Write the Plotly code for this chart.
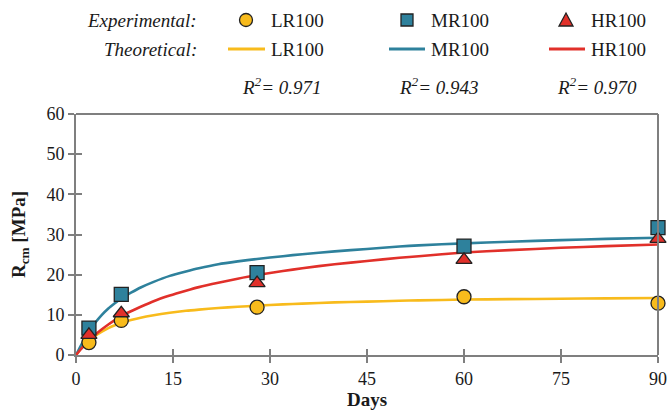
import plotly.graph_objects as go

# ---------------- data ----------------
days_exp = [2, 7, 28, 60, 90]
lr_exp = [3.1, 8.6, 11.9, 14.5, 12.9]
mr_exp = [6.7, 15.1, 20.5, 27.1, 31.7]
hr_exp = [5.0, 10.4, 17.9, 23.7, 28.9]

days_theo = [0, 1, 2, 3, 4, 5, 6, 7, 8.5, 10, 12, 14.5, 17, 19, 22, 25, 28, 32, 35, 40, 45, 50, 53, 60, 67, 75, 82, 90]
lr_theo = [0, 2.1, 3.6, 4.8, 5.8, 6.7, 7.4, 8.0, 8.7, 9.3, 9.9, 10.5, 11.0, 11.3, 11.7, 12.0, 12.3, 12.6, 12.8, 13.1, 13.3, 13.5, 13.6, 13.8, 13.9, 14.0, 14.1, 14.2]
mr_theo = [0, 3.1, 5.8, 8.1, 10.0, 11.6, 12.9, 14.1, 15.5, 16.8, 18.2, 19.7, 20.8, 21.6, 22.6, 23.3, 23.9, 24.6, 25.1, 25.8, 26.4, 27.0, 27.3, 27.8, 28.2, 28.6, 28.9, 29.2]
hr_theo = [0, 1.9, 3.6, 5.1, 6.4, 7.6, 8.7, 9.7, 10.9, 12.0, 13.4, 14.8, 16.0, 16.9, 18.0, 19.0, 19.9, 20.9, 21.6, 22.6, 23.4, 24.2, 24.6, 25.5, 26.1, 26.7, 27.1, 27.5]

series = ["LR100", "MR100", "HR100"]
r2_values = ["0.971", "0.943", "0.970"]
x_ticks = [0, 15, 30, 45, 60, 75, 90]
y_ticks = [0, 10, 20, 30, 40, 50, 60]

colors = ["#F8BB1C", "#2E819C", "#E1302A"]
symbols = ["circle", "square", "triangle-up"]

FONT = "Liberation Serif, Times New Roman, serif"
AX = "#7f7f7f"
TXT = "#1a1a1a"
W, H = 669, 413
L, R, T, B = 76, 11, 114, 58
PW, PH = W - L - R, H - T - B


def px(x):
    return (x - L) / PW


def py(y):
    return (H - B - y) / PH


fig = go.Figure()
exp_sets = [lr_exp, mr_exp, hr_exp]
theo_sets = [lr_theo, mr_theo, hr_theo]

for i in range(3):
    fig.add_trace(go.Scatter(x=days_theo, y=theo_sets[i], mode="lines",
                             line=dict(color=colors[i], width=2.6, shape="spline", smoothing=0.6),
                             showlegend=False, hoverinfo="skip", cliponaxis=False))
for i in range(3):
    fig.add_trace(go.Scatter(x=days_exp, y=exp_sets[i], mode="markers",
                             marker=dict(symbol=symbols[i], color=colors[i], size=14,
                                         line=dict(color="#222222", width=1.3)),
                             showlegend=False, cliponaxis=False))

# ---------------- manual legend (paper coordinates) ----------------
marker_px = [246, 407, 566]
line_px = [(228, 265), (389, 425), (549, 585)]
label_px = [269, 429, 589]
r2_px = [282, 439, 597]
row_y = [20, 49, 86]
head_right = 199

shapes = [
    dict(type="line", xref="paper", yref="paper", x0=0, x1=1, y0=1, y1=1,
         line=dict(color=AX, width=2)),
    dict(type="line", xref="paper", yref="paper", x0=1, x1=1, y0=0, y1=1,
         line=dict(color=AX, width=2)),
]
annotations = []


def ann(text, x, y, xanchor="left"):
    annotations.append(dict(text=text, x=px(x), y=py(y), xref="paper", yref="paper",
                            xanchor=xanchor, yanchor="middle", showarrow=False,
                            font=dict(family=FONT, size=19, color=TXT)))


r = 6.5
edge = dict(color="#222222", width=1.3)
cy = row_y[0]
cx = marker_px[0]
shapes.append(dict(type="circle", xref="paper", yref="paper",
                   x0=px(cx - r), x1=px(cx + r), y0=py(cy + r), y1=py(cy - r),
                   fillcolor=colors[0], line=edge))
cx = marker_px[1]
shapes.append(dict(type="rect", xref="paper", yref="paper",
                   x0=px(cx - 6), x1=px(cx + 6), y0=py(cy + 6), y1=py(cy - 6),
                   fillcolor=colors[1], line=edge))
cx = marker_px[2]
path = (f"M {px(cx - 7)},{py(cy + 6)} L {px(cx + 7)},{py(cy + 6)} "
        f"L {px(cx)},{py(cy - 7)} Z")
shapes.append(dict(type="path", xref="paper", yref="paper", path=path,
                   fillcolor=colors[2], line=edge))

for i in range(3):
    shapes.append(dict(type="line", xref="paper", yref="paper",
                       x0=px(line_px[i][0]), x1=px(line_px[i][1]),
                       y0=py(row_y[1]), y1=py(row_y[1]),
                       line=dict(color=colors[i], width=3)))
    ann(series[i], label_px[i], row_y[0])
    ann(series[i], label_px[i], row_y[1])
    ann(f"<i>R<sup>2</sup>= {r2_values[i]}</i>", r2_px[i], row_y[2], xanchor="center")

ann("<i>Experimental:</i>", head_right, row_y[0], xanchor="right")
ann("<i>Theoretical:</i>", head_right, row_y[1], xanchor="right")

axis_base = dict(showgrid=False, zeroline=False, linecolor=AX, linewidth=2,
                 tickcolor=AX, tickwidth=1.5, ticklen=6, automargin=False)
tickfont = dict(family=FONT, size=18, color=TXT)

fig.update_layout(
    width=W, height=H,
    margin=dict(l=L, r=R, t=T, b=B, autoexpand=False),
    paper_bgcolor="white", plot_bgcolor="white",
    showlegend=False,
    font=dict(family=FONT, color=TXT),
    xaxis=dict(range=[0, 90], tickvals=x_ticks, ticks="outside", showline=True,
               tickfont=tickfont,
               title=dict(text="<b>Days</b>", font=dict(family=FONT, size=19), standoff=2),
               **axis_base),
    yaxis=dict(range=[0, 60], tickvals=y_ticks, ticks="outside", showline=True,
               tickfont=tickfont,
               title=dict(text="<b>R<sub>cm</sub> [MPa]</b>", font=dict(family=FONT, size=19), standoff=16),
               **axis_base),
    xaxis2=dict(range=[0, 90], tickvals=x_ticks, ticks="inside", showline=False,
                overlaying="x", side="bottom", showticklabels=False, **axis_base),
    yaxis2=dict(range=[0, 60], tickvals=y_ticks, ticks="inside", showline=False,
                overlaying="y", side="left", showticklabels=False, **axis_base),
    annotations=annotations,
    shapes=shapes,
)

fig.add_trace(go.Scatter(x=[None], y=[None], xaxis="x2", yaxis="y2", showlegend=False))

fig.write_html("out.html", config={"displayModeBar": False},
               post_script="document.body.style.margin='0';document.body.style.overflow='hidden';")
